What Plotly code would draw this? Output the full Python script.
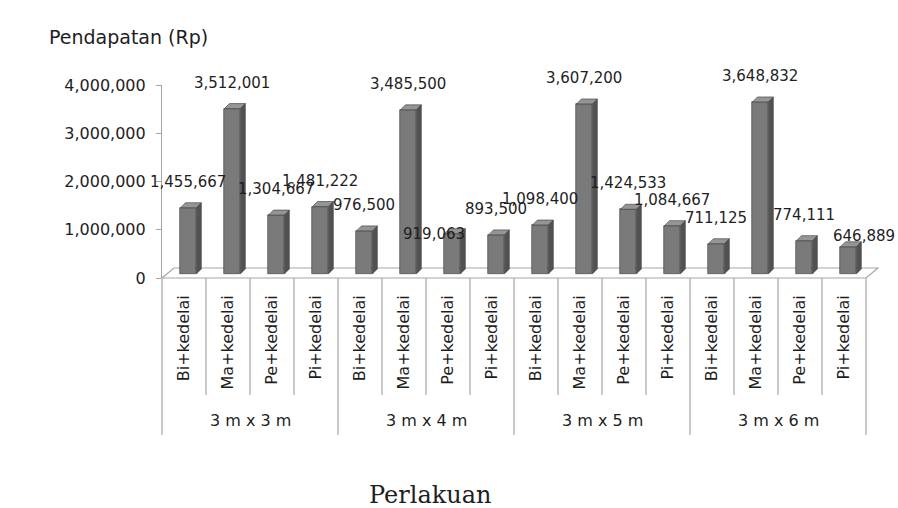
import plotly.graph_objects as go

# ---- data ----
groups = ["3 m x 3 m", "3 m x 4 m", "3 m x 5 m", "3 m x 6 m"]
items = ["Bi+kedelai", "Ma+kedelai", "Pe+kedelai", "Pi+kedelai"]
values = [1455667, 3512001, 1304667, 1481222,
          976500, 3485500, 919063, 893500,
          1098400, 3607200, 1424533, 1084667,
          711125, 3648832, 774111, 646889]
y_ticks = [0, 1000000, 2000000, 3000000, 4000000]

# ---- style ----
FONT = "DejaVu Sans"
TXT = "#1e1e1e"
GRID = "#a6a6a6"
FRONT = "#7a7a7a"
SIDE = "#525252"
TOP = "#959595"
EDGE = "#383838"
BAR_W = 0.36
BAR_OFF = -0.08
# depth of the 3D effect (px) and axis scales (px per unit)
PX_PER_X = 44.0
PX_PER_Y = 193.0 / 4000000
DEPTH_PX = 5
BASE_PX = 4
# label nudges (px) for a few overlapping labels
label_nudge = {6: (-18, -26), 15: (16, -15)}

n = len(values)
xs = list(range(n))
ticktext = [it for g in groups for it in items]

dx = DEPTH_PX / PX_PER_X
dy = DEPTH_PX / PX_PER_Y
b0 = BASE_PX / PX_PER_Y

fig = go.Figure()
fig.add_trace(go.Bar(
    x=xs, y=[v - b0 for v in values], base=b0, width=BAR_W, offset=BAR_OFF,
    marker=dict(color=FRONT, line=dict(color=EDGE, width=0.6)),
    hoverinfo="skip", showlegend=False))

shapes = []
for i, v in zip(xs, values):
    xl = i + BAR_OFF
    xr = xl + BAR_W
    side = f"M{xr},{b0} L{xr},{v} L{xr+dx},{v+dy} L{xr+dx},{b0+dy} Z"
    top = f"M{xl},{v} L{xr},{v} L{xr+dx},{v+dy} L{xl+dx},{v+dy} Z"
    shapes.append(dict(type="path", path=side, xref="x", yref="y", fillcolor=SIDE,
                       line=dict(color=EDGE, width=0.6), layer="above"))
    shapes.append(dict(type="path", path=top, xref="x", yref="y", fillcolor=TOP,
                       line=dict(color=EDGE, width=0.6), layer="above"))

# floor (paper coords)
fx = 12 / 704
fy = 10 / 193
shapes.append(dict(type="path", xref="paper", yref="paper",
                   path=f"M0,0 L1,0 L{1+fx},{fy} L{fx},{fy} Z",
                   fillcolor="rgba(255,255,255,0)", line=dict(color=GRID, width=1.2),
                   layer="below"))

# category dividers
for k in range(n + 1):
    is_group = (k % len(items) == 0)
    shapes.append(dict(type="line", xref="paper", yref="paper",
                       x0=k / n, x1=k / n, y0=0, y1=(-0.813 if is_group else -0.606),
                       line=dict(color=GRID, width=1.2)))

annotations = []
for i, v in zip(xs, values):
    nx, ny = label_nudge.get(i, (0, 0))
    annotations.append(dict(x=i, y=v, xref="x", yref="y", text=f"{v:,}",
                            showarrow=False, xshift=4 + nx, yshift=26 + ny,
                            yanchor="middle", xanchor="center",
                            font=dict(family=FONT, size=15, color=TXT)))
for gi, g in enumerate(groups):
    c = (gi * len(items) + (len(items) - 1) / 2)
    annotations.append(dict(x=c, y=-0.736, xref="x", yref="paper", text=g,
                            showarrow=False, yanchor="middle",
                            font=dict(family=FONT, size=16, color=TXT)))
annotations.append(dict(x=-0.163, y=1.249, xref="paper", yref="paper",
                        text="Pendapatan (Rp)", showarrow=False,
                        xanchor="left", yanchor="middle",
                        font=dict(family=FONT, size=19, color=TXT)))
annotations.append(dict(x=0.382, y=-1.125, xref="paper", yref="paper",
                        text="Perlakuan", showarrow=False,
                        xanchor="center", yanchor="middle",
                        font=dict(family="DejaVu Serif", size=24, color=TXT)))

fig.update_layout(
    width=898, height=508,
    margin=dict(l=162, r=32, t=85, b=230, pad=0),
    paper_bgcolor="white", plot_bgcolor="rgba(0,0,0,0)",
    shapes=shapes, annotations=annotations,
    bargap=0,
    xaxis=dict(range=[-0.5, n - 0.5], tickmode="array", tickvals=xs, ticktext=ticktext,
               tickangle=-90, ticks="", showline=False, showgrid=False, zeroline=False,
               ticklabelstandoff=13,
               tickfont=dict(family=FONT, size=16, color=TXT)),
    yaxis=dict(range=[0, 4000000], tickmode="array", tickvals=y_ticks,
               tickformat=",d", ticks="outside", ticklen=5, tickcolor=GRID,
               showline=True, linecolor=GRID, linewidth=1.2,
               showgrid=False, zeroline=False, ticklabelstandoff=7,
               tickfont=dict(family=FONT, size=16, color=TXT)),
)

fig.write_html("out.html")
